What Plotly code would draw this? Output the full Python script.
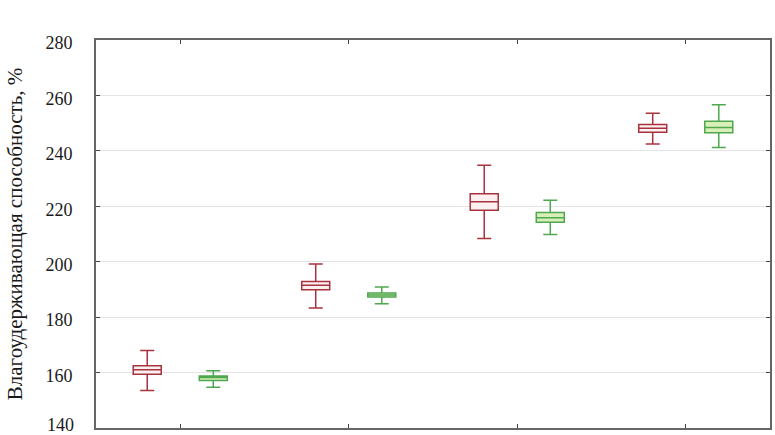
import plotly.graph_objects as go

categories = ["1", "2", "3", "4"]

red_upper = [168.0, 199.2, 234.8, 253.6]
red_q3 = [162.5, 192.9, 224.5, 249.5]
red_median = [161.0, 191.5, 221.6, 248.2]
red_q1 = [159.4, 189.9, 218.6, 246.7]
red_lower = [153.5, 183.3, 208.4, 242.5]

green_upper = [160.7, 190.9, 222.2, 256.6]
green_q3 = [158.8, 188.7, 217.8, 250.7]
green_median = [158.2, 188.0, 215.9, 248.4]
green_q1 = [157.1, 187.3, 214.2, 246.5]
green_lower = [154.7, 184.8, 209.8, 241.2]

y_ticks = [140, 160, 180, 200, 220, 240, 260, 280]
y_range = [140, 280]

fig = go.Figure()
fig.add_trace(go.Box(
    x=categories, q1=red_q1, median=red_median, q3=red_q3,
    lowerfence=red_lower, upperfence=red_upper,
    line=dict(color="#a8323e", width=1.5), fillcolor="#fdf0f1",
    whiskerwidth=0.5, name="red", boxpoints=False, hoverinfo="skip",
))
fig.add_trace(go.Box(
    x=categories, q1=green_q1, median=green_median, q3=green_q3,
    lowerfence=green_lower, upperfence=green_upper,
    line=dict(color="#4fa84f", width=1.5), fillcolor="#d9efb8",
    whiskerwidth=0.5, name="green", boxpoints=False, hoverinfo="skip",
))

fig.update_layout(
    width=775, height=435,
    margin=dict(l=96, r=5, t=40, b=7, autoexpand=False),
    paper_bgcolor="white", plot_bgcolor="white",
    boxmode="group", boxgap=0.216, boxgroupgap=0.576,
    showlegend=False,
    font=dict(family="Liberation Serif", size=18, color="#1a1a1a"),
)
# bottom tick label drawn as text nudged up so it fits inside the page
fig.add_annotation(
    xref="paper", x=0, yref="y", y=y_ticks[0], text=str(y_ticks[0]),
    showarrow=False, xanchor="right", yanchor="middle", xshift=-20, yshift=3,
    font=dict(family="Liberation Serif", size=18, color="#1a1a1a"),
)
fig.update_xaxes(
    type="category", categoryorder="array", categoryarray=categories,
    range=[-0.5, 3.5], showticklabels=False, showgrid=False,
    ticks="inside", ticklen=4, tickcolor="#444444",
    showline=True, linecolor="#666666", linewidth=2, mirror="allticks",
    zeroline=False, automargin=False,
)
fig.update_yaxes(
    range=y_range, tickvals=y_ticks, ticktext=[""] + [str(v) for v in y_ticks[1:]],
    showgrid=True, gridcolor="#e4e4e4", gridwidth=1,
    ticks="inside", ticklen=4, tickcolor="#444444",
    showline=True, linecolor="#666666", linewidth=2, mirror="allticks",
    zeroline=False, ticklabelstandoff=18, ticklabelshift=3, ticklabeloverflow="allow",
    automargin=False,
    title=dict(text="Влагоудерживающая способность, %", font=dict(size=21), standoff=17),
)

fig.write_html(
    "out.html",
    config={"displayModeBar": False},
    post_script="document.body.style.margin='0';document.body.style.overflow='hidden';",
)
